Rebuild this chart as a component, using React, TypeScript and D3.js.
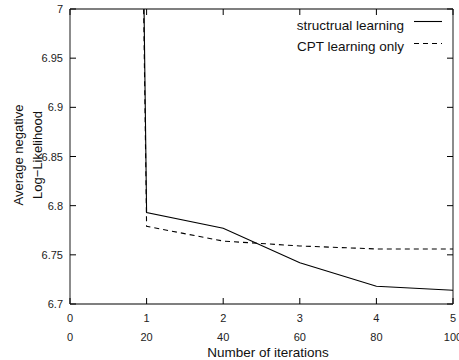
import * as d3 from "d3";

// iterations (bottom row) and second-axis labels
const iterations = [0, 1, 2, 3, 4, 5];
const secondRow = ["0", "20", "40", "60", "80", "100"];
const yTicks = [6.7, 6.75, 6.8, 6.85, 6.9, 6.95, 7];

const structural = [13.0, 6.793, 6.777, 6.742, 6.718, 6.714];
const cptOnly = [12.5, 6.779, 6.764, 6.759, 6.756, 6.756];

const W = 459;
const H = 360;
const left = 70;
const right = 453;
const top = 9;
const bottom = 304;

export default function App() {
  const x = d3.scaleLinear().domain([0, 5]).range([left, right]);
  const y = d3.scaleLinear().domain([6.7, 7]).range([bottom, top]);

  const line = d3
    .line<number>()
    .x((_, i) => x(iterations[i]))
    .y((d) => y(d));

  const font = "'Liberation Sans', Arial, sans-serif";

  return (
    <svg
      width={W}
      height={H}
      style={{ position: "fixed", left: 0, top: 0, background: "#fff" }}
      fontFamily={font}
    >
      <defs>
        <clipPath id="plot">
          <rect x={left} y={top} width={right - left} height={bottom - top} />
        </clipPath>
      </defs>

      {/* frame */}
      <line x1={left} x2={right} y1={top} y2={top} stroke="#000" strokeWidth={1.2} />
      <line x1={left} x2={right} y1={bottom} y2={bottom} stroke="#000" strokeWidth={1.2} />
      <line x1={left} x2={left} y1={top} y2={bottom} stroke="#666" strokeWidth={1.5} />
      <line x1={right} x2={right} y1={top} y2={bottom} stroke="#666" strokeWidth={1.5} />

      {/* y ticks */}
      {yTicks.map((t) => (
        <g key={t}>
          <line x1={left} x2={left + 6} y1={y(t)} y2={y(t)} stroke="#000" />
          <line x1={right} x2={right - 6} y1={y(t)} y2={y(t)} stroke="#000" />
          <text
            x={left - 7}
            y={y(t)}
            textAnchor="end"
            dominantBaseline="central"
            fontSize={11}
            fill="#222"
          >
            {d3.format("")(t)}
          </text>
        </g>
      ))}

      {/* x ticks */}
      {iterations.map((t, i) => (
        <g key={t}>
          <line x1={x(t)} x2={x(t)} y1={bottom} y2={bottom - 6} stroke="#000" />
          <line x1={x(t)} x2={x(t)} y1={top} y2={top + 6} stroke="#000" />
          <text x={x(t)} y={318} textAnchor="middle" dominantBaseline="central" fontSize={11} fill="#222">
            {t}
          </text>
          <text x={x(t)} y={337} textAnchor="middle" dominantBaseline="central" fontSize={11} fill="#222">
            {secondRow[i]}
          </text>
        </g>
      ))}

      {/* series */}
      <g clipPath="url(#plot)">
        <path d={line(structural) ?? ""} fill="none" stroke="#000" strokeWidth={1.1} />
        <path
          d={line(cptOnly) ?? ""}
          fill="none"
          stroke="#000"
          strokeWidth={1.1}
          strokeDasharray="5,4"
        />
      </g>

      {/* legend */}
      <text x={404} y={25} textAnchor="end" dominantBaseline="central" fontSize={13.5} fill="#111">
        structrual learning
      </text>
      <line x1={414} x2={442} y1={21.5} y2={21.5} stroke="#000" strokeWidth={1.1} />
      <text x={404} y={46} textAnchor="end" dominantBaseline="central" fontSize={13.5} fill="#111">
        CPT learning only
      </text>
      <line x1={414} x2={442} y1={43.5} y2={43.5} stroke="#000" strokeWidth={1.1} strokeDasharray="5,4" />

      {/* axis titles */}
      <text x={268} y={352} textAnchor="middle" dominantBaseline="central" fontSize={13.5} fill="#111">
        Number of iterations
      </text>
      <g transform={`translate(18, 155) rotate(-90)`}>
        <text x={0} y={0} textAnchor="middle" dominantBaseline="central" fontSize={13} fill="#111">
          Average negative
        </text>
        <text x={0} y={19} textAnchor="middle" dominantBaseline="central" fontSize={13} fill="#111">
          Log−Likelihood
        </text>
      </g>
    </svg>
  );
}
